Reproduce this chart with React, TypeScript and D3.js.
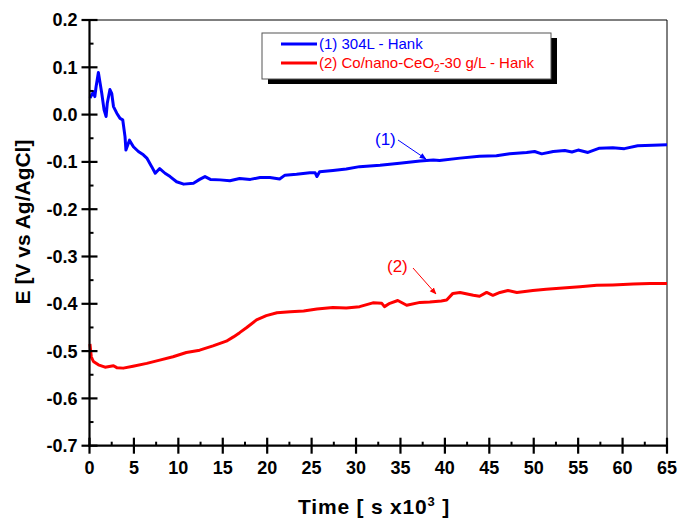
import React from "react";
import * as d3 from "d3";

const blueX = [0.05,0.44,0.6,0.74,1.0,1.2,1.38,1.64,1.87,2.0,2.3,2.5,2.7,3.07,3.44,3.74,4.0,4.1,4.5,4.94,5.5,6.06,6.45,7.0,7.4,7.9,8.5,9.07,9.8,10.6,11.7,12.4,13.0,13.6,14.7,15.8,16.9,18.1,19.2,20.3,21.4,22.0,23.3,24.8,25.4,25.6,25.9,27.4,28.9,30.4,32.7,34.9,37.2,38.7,39.4,41.7,43.9,45.8,47.3,49.2,50.1,50.9,52.2,53.5,54.3,55.0,56.1,57.4,58.9,60.2,61.7,63.4,65.0];
const blueY = [0.035,0.048,0.038,0.059,0.089,0.066,0.045,0.01,-0.004,0.024,0.053,0.045,0.017,0.003,-0.008,-0.011,-0.047,-0.075,-0.054,-0.068,-0.078,-0.085,-0.092,-0.11,-0.124,-0.114,-0.124,-0.131,-0.142,-0.147,-0.145,-0.137,-0.131,-0.137,-0.138,-0.14,-0.135,-0.137,-0.133,-0.133,-0.136,-0.128,-0.126,-0.123,-0.123,-0.131,-0.121,-0.118,-0.115,-0.11,-0.107,-0.103,-0.098,-0.096,-0.097,-0.092,-0.088,-0.087,-0.083,-0.08,-0.078,-0.083,-0.078,-0.076,-0.079,-0.075,-0.08,-0.071,-0.07,-0.072,-0.066,-0.065,-0.064];

const redX = [0.05,0.2,0.44,1.0,1.75,2.7,3.07,3.8,4.9,6.45,7.9,9.4,10.9,12.4,13.9,15.4,16.2,16.9,17.7,18.8,19.9,21.1,22.6,24.1,25.6,27.4,28.9,30.4,31.9,32.9,33.2,33.8,34.7,35.7,37.2,38.3,39.6,40.2,40.9,41.7,43.2,43.9,44.7,45.4,46.2,47.1,48.1,49.9,51.4,52.9,55.2,57.1,58.9,61.2,63.1,65.0];
const redY = [-0.485,-0.512,-0.522,-0.529,-0.534,-0.531,-0.535,-0.536,-0.532,-0.526,-0.519,-0.512,-0.503,-0.498,-0.489,-0.479,-0.470,-0.461,-0.450,-0.434,-0.425,-0.419,-0.417,-0.415,-0.411,-0.408,-0.409,-0.406,-0.398,-0.399,-0.406,-0.399,-0.393,-0.403,-0.397,-0.396,-0.394,-0.392,-0.378,-0.376,-0.382,-0.384,-0.376,-0.382,-0.376,-0.372,-0.376,-0.372,-0.369,-0.367,-0.364,-0.361,-0.36,-0.358,-0.357,-0.357];

const xTicks = [0,5,10,15,20,25,30,35,40,45,50,55,60,65];
const yTicks = [0.2,0.1,0.0,-0.1,-0.2,-0.3,-0.4,-0.5,-0.6,-0.7];

const W = 680, H = 519;
const L = 89.5, R = 667, T = 20, B = 445.7;
const FONT = "Arial, 'Liberation Sans', sans-serif";

export default function App() {
  const x = d3.scaleLinear().domain([0, 65]).range([L, R]);
  const y = d3.scaleLinear().domain([-0.7, 0.2]).range([B, T]);
  const line = d3.line<number>().x((d: any) => x(d[0])).y((d: any) => y(d[1]));
  const bluePts: any = blueX.map((v, i) => [v, blueY[i]]);
  const redPts: any = redX.map((v, i) => [v, redY[i]]);
  const xMinor = d3.range(0, 65, 5).map((v) => v + 2.5);
  const yMinor = d3.range(0, 9).map((i) => 0.15 - i * 0.1);

  return (
    <div style={{ position: "absolute", left: 0, top: 0 }}>
      <svg width={W} height={H} style={{ display: "block", background: "#fff" }}>
        <defs>
          <marker id="arB" viewBox="0 0 10 10" refX="9" refY="5" markerWidth="7" markerHeight="7" orient="auto" markerUnits="userSpaceOnUse">
            <path d="M0,1 L10,5 L0,9 z" fill="#0000ff" />
          </marker>
          <marker id="arR" viewBox="0 0 10 10" refX="9" refY="5" markerWidth="7" markerHeight="7" orient="auto" markerUnits="userSpaceOnUse">
            <path d="M0,1 L10,5 L0,9 z" fill="#ff0000" />
          </marker>
        </defs>
        {/* frame */}
        <line x1={L} x2={R} y1={T} y2={T} stroke="#000" strokeWidth={1} />
        <line x1={R} x2={R} y1={T} y2={B} stroke="#000" strokeWidth={1} />
        {/* curves */}
        <path d={line(bluePts) || ""} fill="none" stroke="#0000ff" strokeWidth={3} strokeLinejoin="round" />
        <path d={line(redPts) || ""} fill="none" stroke="#ff0000" strokeWidth={3} strokeLinejoin="round" />
        {/* axes */}
        <line x1={L} x2={L} y1={T} y2={B + 1} stroke="#000" strokeWidth={2.2} />
        <line x1={L - 1} x2={R} y1={B} y2={B} stroke="#000" strokeWidth={2.2} />
        {yTicks.map((v) => (
          <g key={"yt" + v}>
            <line x1={L - 8} x2={L + 8} y1={y(v)} y2={y(v)} stroke="#000" strokeWidth={2.2} />
            <text x={L - 12} y={y(v)} dy="0.36em" textAnchor="end" fontFamily={FONT} fontWeight="bold" fontSize={18}>
              {d3.format(".1f")(v).replace("−", "-")}
            </text>
          </g>
        ))}
        {yMinor.map((v) => (
          <line key={"ym" + v} x1={L} x2={L + 4} y1={y(v)} y2={y(v)} stroke="#000" strokeWidth={2} />
        ))}
        {xTicks.map((v) => (
          <g key={"xt" + v}>
            <line x1={x(v)} x2={x(v)} y1={B - 8} y2={B + 8} stroke="#000" strokeWidth={2.2} />
            <text x={x(v)} y={B + 28} textAnchor="middle" fontFamily={FONT} fontWeight="bold" fontSize={18}>
              {v}
            </text>
          </g>
        ))}
        {xMinor.map((v) => (
          <line key={"xm" + v} x1={x(v)} x2={x(v)} y1={B - 4} y2={B} stroke="#000" strokeWidth={2} />
        ))}
        {/* axis labels */}
        <text transform="translate(30,222) rotate(-90)" textAnchor="middle" fontFamily={FONT} fontWeight="bold" fontSize={21}>
          E [V vs Ag/AgCl]
        </text>
        <text x={374} y={514} textAnchor="middle" fontFamily={FONT} fontWeight="bold" fontSize={21} letterSpacing={0.8}>
          Time [ s x10<tspan dy={-8} fontSize={13}>3</tspan><tspan dy={8}> ]</tspan>
        </text>
        {/* legend */}
        <rect x={268} y={38} width={289} height={46} fill="#000" />
        <rect x={262} y={33} width={289} height={46} fill="#fff" stroke="#555" strokeWidth={1} />
        <line x1={281} x2={317} y1={44} y2={44} stroke="#0000ff" strokeWidth={2.8} />
        <text x={319} y={44} dy="0.36em" fontFamily={FONT} fontSize={15} fill="#0000ff">(1) 304L - Hank</text>
        <line x1={281} x2={317} y1={63} y2={63} stroke="#ff0000" strokeWidth={2.8} />
        <text x={319} y={63} dy="0.36em" fontFamily={FONT} fontSize={15} fill="#ff0000">
          (2) Co/nano-CeO<tspan dy={4} fontSize={10}>2</tspan><tspan dy={-4}>-30 g/L - Hank</tspan>
        </text>
        {/* annotations */}
        <text x={375} y={145} fontFamily={FONT} fontSize={17} fill="#0000ff">(1)</text>
        <line x1={398} x2={426} y1={140} y2={159} stroke="#0000ff" strokeWidth={1} markerEnd="url(#arB)" />
        <text x={387} y={272} fontFamily={FONT} fontSize={17} fill="#ff0000">(2)</text>
        <line x1={413} x2={436} y1={268} y2={294} stroke="#ff0000" strokeWidth={1} markerEnd="url(#arR)" />
      </svg>
    </div>
  );
}
